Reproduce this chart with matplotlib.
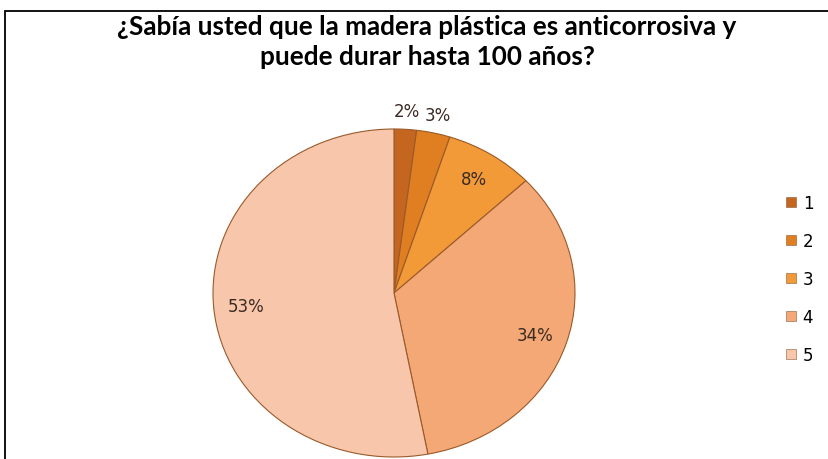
import numpy as np
import matplotlib
matplotlib.use("Agg")
from matplotlib import pyplot as plt
import matplotlib.patches as mpatches

titulo = "¿Sabía usted que la madera plástica es anticorrosiva y\npuede durar hasta 100 años?"
categorias = ["1", "2", "3", "4", "5"]
porcentajes = [2, 3, 8, 34, 53]
colores = ["#c4661f", "#e07e22", "#f29a38", "#f4a875", "#f8c6ab"]

fig = plt.figure(figsize=(8.29, 4.6), dpi=100)
fig.patch.set_facecolor("white")

# marco del grafico (solo se ven los bordes superior e izquierdo)
marco = mpatches.Rectangle((5 / 829, -0.1), 1.1, 1 - 12 / 460 + 0.1, transform=fig.transFigure,
                           fill=False, edgecolor="black", linewidth=1.3)
fig.patches.append(marco)

fig.text(427 / 829, 1 - 42 / 460, titulo, ha="center", va="center", fontsize=18.8,
         fontweight="bold", family="Lato", linespacing=1.34, color="black")

# pie eliptico: el eje ocupa exactamente la caja de la elipse
ax = fig.add_axes([213 / 829, 2 / 460, 362 / 829, 328 / 460])
wedges, textos, autotextos = ax.pie(porcentajes, colors=colores, startangle=90, counterclock=False,
                                    autopct="%1.0f%%", pctdistance=0.82,
                                    wedgeprops=dict(edgecolor="#9a5a2a", linewidth=0.8),
                                    textprops=dict(fontsize=12, color="#3a2a22", family="DejaVu Sans"))
ax.set_aspect("auto")
ax.set_xlim(-1, 1)
ax.set_ylim(-1, 1)

# las dos porciones pequeñas llevan la etiqueta por fuera
for w, t, p in zip(wedges, autotextos, porcentajes):
    if p < 5:
        ang = np.deg2rad((w.theta1 + w.theta2) / 2)
        t.set_position((1.1 * np.cos(ang), 1.11 * np.sin(ang)))

manijas = [mpatches.Patch(facecolor=c, edgecolor="#8a5a3a", linewidth=0.4) for c in colores]
fig.legend(manijas, categorias, loc="center left", bbox_to_anchor=(771 / 829, 1 - 280 / 460),
           frameon=False, handlelength=0.6, handleheight=0.6,
           handletextpad=0.4, labelspacing=1.2, prop=dict(family="DejaVu Sans", size=12))

fig.savefig("out.png", dpi=100, facecolor="white")
